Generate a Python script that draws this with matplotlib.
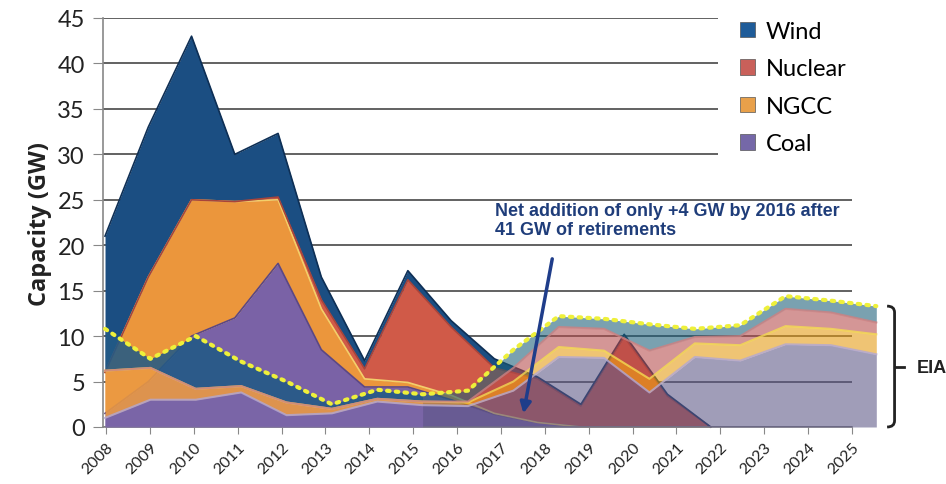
import numpy as np
import matplotlib.pyplot as plt
from matplotlib.patches import Patch, PathPatch, Rectangle
from matplotlib.path import Path

plt.rcParams['font.family'] = ['Lato', 'DejaVu Sans']

years = list(range(2008, 2026))
series = ["Wind", "Nuclear", "NGCC", "Coal"]

# back row (historical additions), GW per series, stacked coal -> ngcc -> nuclear -> wind
back_coal = [1.5, 5, 10, 12, 18, 8.5, 4.4, 4.4, 3.0, 1.4, 0.5, 0, 0, 0, 0, 0, 0, 0]
back_ngcc = [4.5, 11.5, 15, 12.8, 7, 4.5, 0.9, 0.5, 0.5, 0.1, 0, 0, 0, 0, 0, 0, 0, 0]
back_nuclear = [0, 0, 0, 0, 0.3, 1.0, 1.1, 11.3, 7.5, 5.0, 4.8, 2.3, 9.9, 3.4, 0, 0, 0, 0]
back_wind = [15, 16.5, 18, 5.2, 7, 2.5, 0.9, 1.0, 0.7, 1.0, 0.2, 0.2, 0.3, 0.2, 0, 0, 0, 0]

# front row (EIA), GW per series
front_coal = [1.0, 3.0, 3.0, 3.8, 1.3, 1.5, 2.8, 2.4, 2.3, 4.0, 7.7, 7.6, 3.8, 7.7, 7.3, 9.1, 9.0, 8.0]
front_ngcc = [5.2, 3.5, 1.2, 0.7, 1.4, 0.5, 0.3, 0.4, 0.4, 1.0, 1.1, 0.8, 1.5, 1.5, 1.7, 2.0, 1.8, 2.2]
front_nuclear = [0, 0, 0, 0, 0, 0, 0, 0, 0.1, 1.5, 2.2, 2.4, 3.1, 0.7, 1.0, 1.9, 1.8, 1.3]
front_wind = [4.6, 1.0, 5.8, 2.7, 2.3, 0.5, 1.0, 0.8, 1.2, 2.0, 1.2, 1.1, 2.9, 0.9, 1.2, 1.4, 1.3, 1.8]

yticks = list(range(0, 50, 5))
note = "Net addition of only +4 GW by 2016 after\n41 GW of retirements"

back_cols = {"Coal": "#7a62a6", "NGCC": "#eb963c", "Nuclear": "#d05a48", "Wind": "#1b4e82"}
back_edges = {"Coal": "#5b4784", "NGCC": "#f3cf6a", "Nuclear": "#a8443a", "Wind": "#0e2f55"}
hist_cols = {"Coal": "#7a66a8", "NGCC": "#ec9a42", "Nuclear": "#c85448", "Wind": "#225a86"}
proj_cols = {"Coal": "#5c5686", "NGCC": "#e59a10", "Nuclear": "#b54a4a", "Wind": "#1a5e78"}
front_edges = {"Coal": "#b2a8d4", "NGCC": "#f5dc50", "Nuclear": "#d08080", "Wind": "#3c7f96"}
legend_cols = {"Wind": "#1f5c99", "Nuclear": "#c9605a", "NGCC": "#e8a04a", "Coal": "#7568a8"}

fig = plt.figure(figsize=(9.46, 4.85), dpi=100)
ax = fig.add_axes([103 / 946, 57 / 485, 749 / 946, 409 / 485])

idx = np.arange(len(years))
xb = -0.024 + 0.986 * idx   # back row sits a bit narrower (3d depth)
xf = -0.024 + 1.034 * idx


def draw_row(x, vals, cols, alpha, z, where=None):
    base = np.zeros(len(x))
    for name in ["Coal", "NGCC", "Nuclear", "Wind"]:
        top = base + np.array(vals[name], dtype=float)
        ax.fill_between(x, base, top, where=where, color=cols[name], alpha=alpha,
                        lw=0, zorder=z, clip_on=False, interpolate=False)
        base = top
    return base


back_vals = {"Coal": back_coal, "NGCC": back_ngcc, "Nuclear": back_nuclear, "Wind": back_wind}
front_vals = {"Coal": front_coal, "NGCC": front_ngcc, "Nuclear": front_nuclear, "Wind": front_wind}

draw_row(xb, back_vals, back_cols, 1.0, 2)
base = np.zeros(len(xb))
for name in ["Coal", "NGCC", "Nuclear", "Wind"]:
    base = base + np.array(back_vals[name])
    ax.plot(xb[:15], base[:15], color=back_edges[name], lw=1.2, zorder=2.1, clip_on=False)

hist = idx <= 7
proj = idx >= 7
draw_row(xf, front_vals, hist_cols, 0.88, 3, where=hist)
total = draw_row(xf, front_vals, proj_cols, 0.58, 3, where=proj)

base = np.zeros(len(xf))
for name in ["Coal", "NGCC", "Nuclear"]:
    base = base + np.array(front_vals[name])
    ax.plot(xf, base, color=front_edges[name], lw=1.5, alpha=0.8, zorder=3.1, clip_on=False)

ax.plot(xf, total, color="#eef03a", lw=3, ls=(0, (0.6, 1.5)), dash_capstyle="round",
        zorder=5, clip_on=False)

ax.set_xlim(-0.07, 17)
ax.set_ylim(0, 45)
ax.set_yticks(yticks)
ax.set_yticklabels([str(v) for v in yticks], fontsize=17, color="#222222")
ax.set_xticks(idx)
ax.set_xticklabels([str(y) for y in years], rotation=45, ha="right", va="top",
                   rotation_mode="anchor", fontsize=11.5, color="#222222")
ax.tick_params(axis="y", length=7, color="#888888", direction="out", pad=6)
ax.tick_params(axis="x", length=5, color="#888888", direction="out", pad=4)
ax.grid(axis="y", color="#555555", lw=1.3)
ax.set_axisbelow(True)
for s in ["top", "right"]:
    ax.spines[s].set_visible(False)
for s in ["left", "bottom"]:
    ax.spines[s].set_color("#888888")
    ax.spines[s].set_linewidth(1.2)
ax.set_ylabel("Capacity (GW)", fontsize=17, fontweight="bold", family=["Open Sans", "DejaVu Sans"],
              color="#222222", labelpad=4)

# white block behind the legend cuts the upper gridlines
ax.add_patch(Rectangle((0.821, 0.63), 0.2, 0.4, transform=ax.transAxes, facecolor="white",
                       edgecolor="none", zorder=1, clip_on=False))

ax.text(8.86, 24.8, note, fontsize=13, fontweight="bold", color="#1f3d7a",
        family=["Liberation Sans", "DejaVu Sans"], va="top", ha="left", linespacing=1.15, zorder=7)
ax.annotate("", xy=(9.5, 1.2), xytext=(10.18, 18.8),
            arrowprops=dict(arrowstyle="-|>", color="#1f3d8a", lw=2.5, mutation_scale=16),
            zorder=7)

# EIA brace
xs, xh, xm = 17.97, 17.80, 18.18
verts = [(xh, 13.3), (xs, 13.3), (xs, 12.6), (xs, 0.7), (xs, 0.0), (xh, 0.0)]
codes = [Path.MOVETO, Path.CURVE3, Path.CURVE3, Path.LINETO, Path.CURVE3, Path.CURVE3]
ax.add_patch(PathPatch(Path(verts, codes), fill=False, lw=2, ec="#222222", clip_on=False))
ax.plot([xs, xm], [6.6, 6.6], color="#222222", lw=2, clip_on=False)
ax.text(18.47, 6.6, "EIA", fontsize=13, fontweight="bold", family=["Liberation Sans", "DejaVu Sans"],
        va="center", ha="left", color="#222222")

handles = [Patch(facecolor=legend_cols[n], edgecolor="#555555", lw=0.5, label=n) for n in series]
ax.legend(handles=handles, loc="upper left", bbox_to_anchor=(728 / 946, 1 - 10 / 485),
          bbox_transform=fig.transFigure, frameon=False, fontsize=17, handlelength=0.65,
          handleheight=0.65, handletextpad=0.45, labelspacing=0.7, borderpad=0)

fig.savefig("out.png", dpi=100)
